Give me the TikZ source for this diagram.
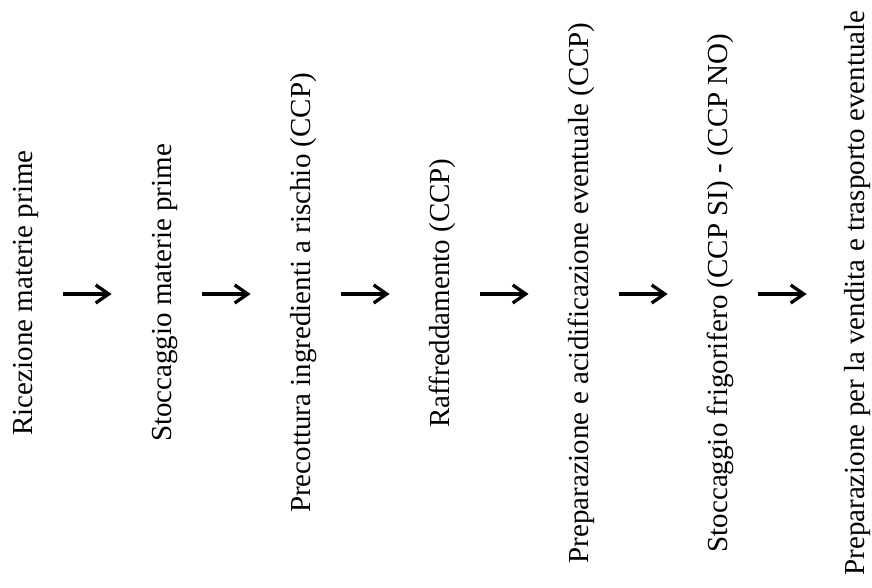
\documentclass[tikz,border=0pt]{standalone}
\usepackage{fontspec}
\setmainfont{Liberation Serif}
\usetikzlibrary{arrows.meta}
\begin{document}
\begin{tikzpicture}[x=1pt,y=-1pt,
  lab/.style={rotate=90,anchor=south,inner sep=0pt,text height=20pt,text depth=0pt,
    font=\fontsize{29}{35}\selectfont},
  arr/.style={line width=3.3pt,-{Straight Barb[length=13pt,width=18pt,line width=3.3pt]}}]
\fill[white] (0,0) rectangle (872,588);
\useasboundingbox (0,0) rectangle (872,588);
\node[lab] (n1) at (33,293) {Ricezione materie prime};
\node[lab] (n2) at (172,293) {Stoccaggio materie prime};
\node[lab] (n3) at (311,293) {Precottura ingredienti a rischio (CCP)};
\node[lab] (n4) at (450,293) {Raffreddamento (CCP)};
\node[lab] (n5) at (589,293) {Preparazione e acidificazione eventuale (CCP)};
\node[lab] (n6) at (728,293) {Stoccaggio frigorifero (CCP SI) - (CCP NO)};
\node[lab] (n7) at (865,293) {Preparazione per la vendita e trasporto eventuale};
\foreach \a/\b/\s in {n1/n2/40,n2/n3/40,n3/n4/40,n4/n5/40,n5/n6/40,n6/n7/38}
  \draw[arr] ([xshift=30pt,yshift=-1pt]\a.south) -- ([xshift=-\s pt,yshift=-1pt]\b.north);
\end{tikzpicture}
\end{document}
